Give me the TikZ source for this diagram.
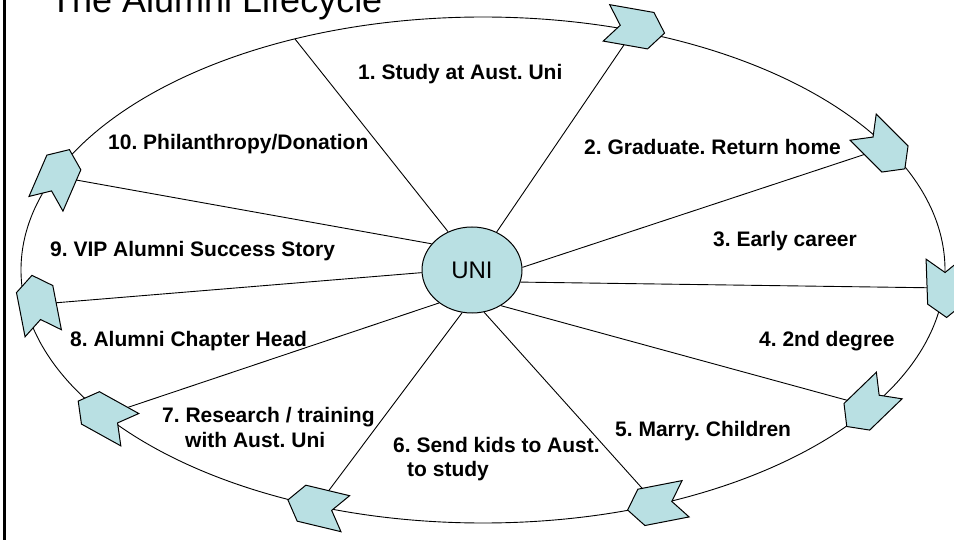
\documentclass[tikz,border=0pt]{standalone}
\usepackage{fontspec}
\setmainfont{Liberation Sans}
\usetikzlibrary{shapes.geometric}
\definecolor{chevblue}{RGB}{185,224,227}
\tikzset{
  spoke/.style={draw=black, line width=0.9pt},
  ring/.style={draw=black, line width=0.9pt},
  chevshape/.style={fill=chevblue, draw=black, line width=1pt, line join=miter},
  lbl/.style={anchor=base west, inner sep=0pt, font=\fontsize{21}{25}\selectfont\bfseries},
  hub/.style={ellipse, fill=chevblue, draw=black, line width=1pt, minimum width=100pt, minimum height=86pt, inner sep=0pt, font=\fontsize{24}{28}\selectfont},
  chev/.pic={\path[chevshape] (-29.5,-18.5) -- (15.5,-18.5) -- (29.5,0) -- (15.5,18.5) -- (-29.5,18.5) -- (-15.5,0) -- cycle;}
}
\begin{document}
\frenchspacing
\begin{tikzpicture}[x=1pt,y=-1pt]
\useasboundingbox (0,0) rectangle (954,540);
\clip (0,0) rectangle (954,540);
\fill[white] (0,0) rectangle (954,540);
% title
\node[anchor=base west, inner sep=0pt, font=\fontsize{36}{40}\selectfont] (title) at (50,13) {The Alumni Lifecycle};
% left bar
\draw[line width=3pt] (4.5,-2) -- (4.5,542);
% big ring
\draw[ring] (483,270) ellipse [x radius=462pt, y radius=253pt];
% hub
\node[hub] (uni) at (472,270) {UNI};
% chevron centres
\coordinate (c1) at (635.5,28);
\coordinate (c2) at (884,148);
\coordinate (c3) at (945.6,288);
\coordinate (c4) at (868,406);
\coordinate (c5) at (656.6,504.4);
\coordinate (c6) at (316.6,506.8);
\coordinate (c7) at (104,415.4);
\coordinate (c8) at (37.6,304.3);
\coordinate (c9) at (57.7,176.7);
\coordinate (e10) at (295,39);
% spokes
\draw[spoke] (uni.122.7) -- (e10);
\draw[spoke] (uni.57.3) -- (c1);
\draw[spoke] (uni.3.6) -- (c2);
\draw[spoke] (uni.-14) -- (c3);
\draw[spoke] (uni.-51.3) -- (c4);
\draw[spoke] (uni.-74) -- (c5);
\draw[spoke] (uni.-103.4) -- (c6);
\draw[spoke] (uni.-135.9) -- (c7);
\draw[spoke] (uni.183.3) -- (c8);
\draw[spoke] (uni.147.3) -- (c9);
% chevrons
\pic[rotate=-10] at (c1) {chev};
\pic[rotate=-45] at (c2) {chev};
\pic[rotate=-88] at (c3) {chev};
\pic[rotate=-136] at (c4) {chev};
\pic[rotate=191] at (c5) {chev};
\pic[rotate=166.5] at (c6) {chev};
\pic[rotate=151] at (c7) {chev};
\pic[rotate=101] at (c8) {chev};
\pic[rotate=66.6] at (c9) {chev};
% labels
\node[lbl] (l1) at (358,80) {1. Study at Aust. Uni};
\node[lbl] (l2) at (584,155) {2. Graduate. Return home};
\node[lbl] (l3) at (713,247) {3. Early career};
\node[lbl] (l4) at (759,346) {4. 2nd degree};
\node[lbl] (l5) at (615,436) {5. Marry. Children};
\node[lbl] (l6a) at (393,452) {6. Send kids to Aust.};
\node[lbl] (l6b) at (407,476) {to study};
\node[lbl] (l7a) at (162,422) {7. Research / training};
\node[lbl] (l7b) at (185,447) {with Aust. Uni};
\node[lbl] (l8) at (70,347) {8. Alumni Chapter Head};
\node[lbl] (l9) at (50,257) {9. VIP Alumni Success Story};
\node[lbl] (l10) at (108,150) {10. Philanthropy/Donation};
\end{tikzpicture}
\end{document}
